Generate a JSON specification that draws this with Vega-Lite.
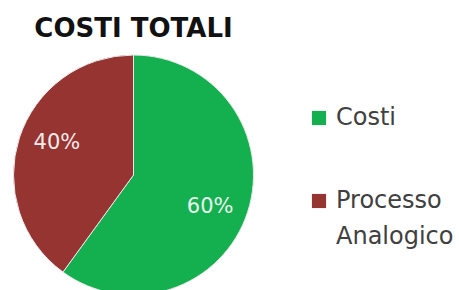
{
  "$schema": "https://vega.github.io/schema/vega-lite/v6.json",
  "width": 247,
  "height": 234,
  "padding": {"left": 10, "top": 16, "right": 0, "bottom": 0},
  "background": "white",
  "title": {"text": "COSTI TOTALI", "fontSize": 26, "font": "DejaVu Sans", "fontWeight": "bold", "color": "#111111", "anchor": "middle", "offset": 11},
  "data": {"values": [
    {"cat": "Costi", "value": 60, "label": "60%"},
    {"cat": "Processo Analogico", "value": 40, "label": "40%"}
  ]},
  "encoding": {
    "theta": {"field": "value", "type": "quantitative", "stack": true},
    "order": {"field": "value", "type": "quantitative", "sort": "descending"}
  },
  "layer": [
    {
      "mark": {"type": "arc", "outerRadius": 120, "stroke": "#e8e8e8", "strokeWidth": 1},
      "encoding": {
        "color": {
          "field": "cat", "type": "nominal",
          "scale": {"domain": ["Costi", "Processo Analogico"], "range": ["#14b04f", "#963432"]},
          "legend": {
            "orient": "none", "legendX": 297, "legendY": 48, "title": null,
            "symbolType": "square", "symbolSize": 200, "symbolStrokeWidth": 0,
            "labelFont": "DejaVu Sans", "labelFontSize": 24, "labelColor": "#404040",
            "labelOffset": 5, "rowPadding": 59, "padding": 0, "labelBaseline": "middle",
            "labelExpr": "datum.label == 'Processo Analogico' ? ['Processo', 'Analogico'] : datum.label",
            "encoding": {"labels": {"lineHeight": {"value": 36}}}
          }
        }
      }
    },
    {
      "mark": {"type": "text", "radius": 83, "fontSize": 21, "font": "DejaVu Sans", "opacity": 0.9, "thetaOffset": 0.08},
      "encoding": {
        "text": {"field": "label"},
        "detail": {"field": "cat", "type": "nominal"},
        "color": {"value": "#ffffff"}
      }
    }
  ],
  "config": {"view": {"stroke": null}}
}
